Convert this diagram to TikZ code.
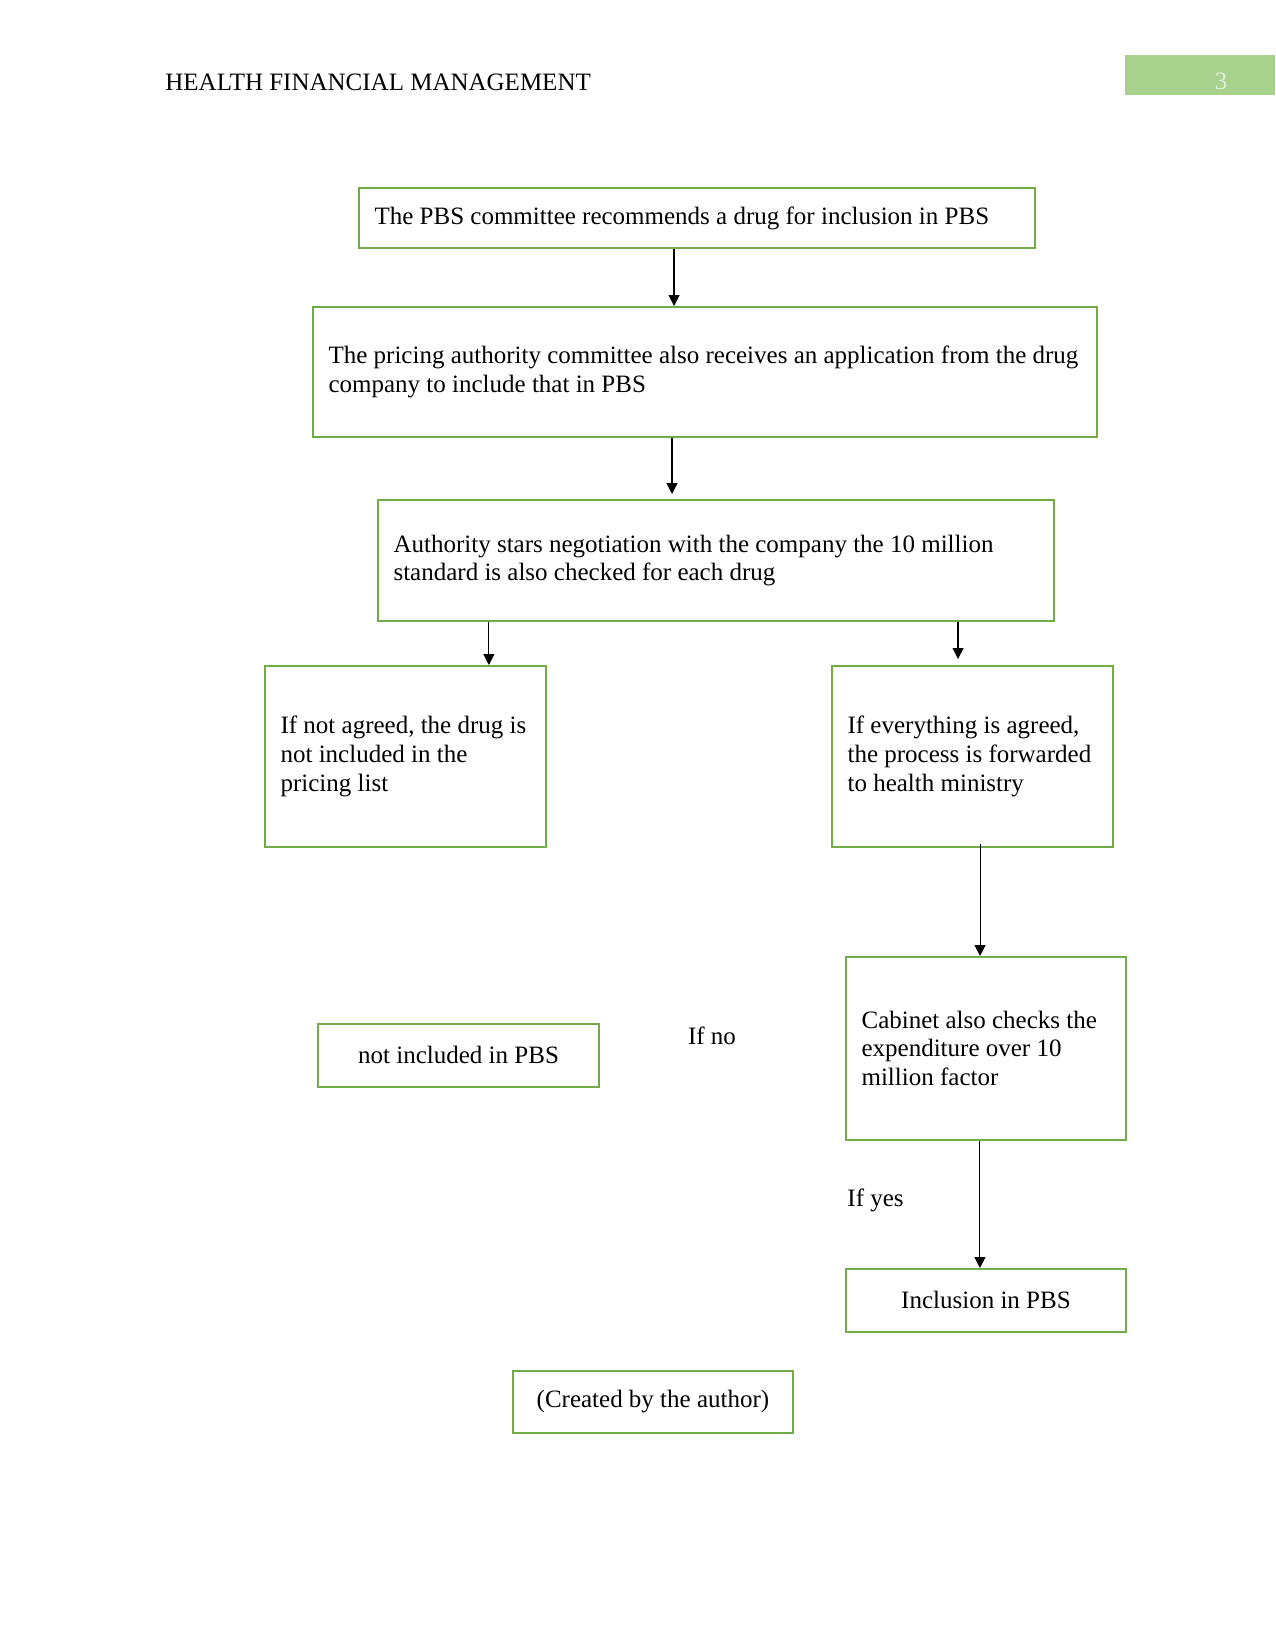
\documentclass[tikz,border=0pt]{standalone}
\usepackage{fontspec}
\setmainfont{Liberation Serif}
\usetikzlibrary{arrows.meta}

\definecolor{pbsBoxStroke}{HTML}{70AD47}
\definecolor{pbsTabFill}{HTML}{A9D18E}
\definecolor{pbsTabText}{HTML}{E2F0D9}

\begin{document}
\begin{tikzpicture}[x=0.48pt,y=-0.48pt,font=\fontsize{12}{13.8}\selectfont,
  pbsbox/.style={draw=pbsBoxStroke,line width=0.9pt,anchor=north west,
    inner xsep=7.5pt,inner ysep=0pt,align=flush left},
  pbsarrow/.style={-{Triangle[length=5.2pt,width=5.2pt]},line width=0.55pt}]
  \useasboundingbox (0,0) rectangle (1275,1650);

  % ---- page header ----
  \node[anchor=west,inner xsep=0pt] (title) at (165,82) {HEALTH FINANCIAL MANAGEMENT};
  \fill[pbsTabFill] (1125,55) rectangle (1275,95);
  \node[text=pbsTabText] (pageno) at (1221,81) {3};

  % ---- boxes ----
  \node[pbsbox,text width=309.5pt,minimum height=28.8pt] (recommend) at (358,187)
        {The PBS committee recommends a drug for inclusion in PBS};
  \node[pbsbox,text width=361.3pt,minimum height=62.4pt] (application) at (312,306)
        {The pricing authority committee also receives an application from the drug\\company to include that in PBS};
  \node[pbsbox,text width=309.5pt,minimum height=58.1pt] (negotiate) at (377,499)
        {Authority stars negotiation with the company the 10 million\\standard is also checked for each drug};
  \node[pbsbox,text width=120pt,minimum height=86.9pt] (notagreed) at (264,665)
        {If not agreed, the drug is\\not included in the\\pricing list};
  \node[pbsbox,text width=120pt,minimum height=86.9pt] (agreed) at (831,665)
        {If everything is agreed,\\the process is forwarded\\to health ministry};
  \node[pbsbox,text width=119.4pt,minimum height=87.8pt] (cabinet) at (845,956)
        {Cabinet also checks the\\expenditure over 10\\million factor};
  \node[pbsbox,align=flush center,text width=120pt,minimum height=30.2pt] (notincluded) at (317,1023)
        {not included in PBS};
  \node[pbsbox,align=flush center,text width=119.4pt,minimum height=30.2pt] (inclusion) at (845,1268)
        {Inclusion in PBS};
  \node[pbsbox,align=flush center,text width=119.4pt,minimum height=29.8pt] (credit) at (512,1370)
        {(Created by the author)};

  % ---- free labels ----
  \node (ifno) at (712,1036) {If no};
  \node[anchor=west,inner xsep=0pt] (ifyes) at (847,1200) {If yes};

  % ---- arrows ----
  \draw[pbsarrow] ([xshift=-11pt]recommend.south) -- ([xshift=-11pt]recommend.south |- application.north);
  \draw[pbsarrow] ([xshift=-15.8pt]application.south) -- ([xshift=-15.8pt,yshift=2.4pt]application.south |- negotiate.north);
  \draw[pbsarrow] ([xshift=-109pt]negotiate.south) -- ([xshift=-109pt]negotiate.south |- notagreed.north);
  \draw[pbsarrow] ([xshift=116.2pt]negotiate.south) -- ([xshift=116.2pt,yshift=2.9pt]negotiate.south |- agreed.north);
  \draw[pbsarrow] ([xshift=3.6pt,yshift=1.9pt]agreed.south) -- ([xshift=3.6pt]agreed.south |- cabinet.north);
  \draw[pbsarrow] ([xshift=-2.9pt]cabinet.south) -- ([xshift=-2.9pt]cabinet.south |- inclusion.north);
\end{tikzpicture}
\end{document}
